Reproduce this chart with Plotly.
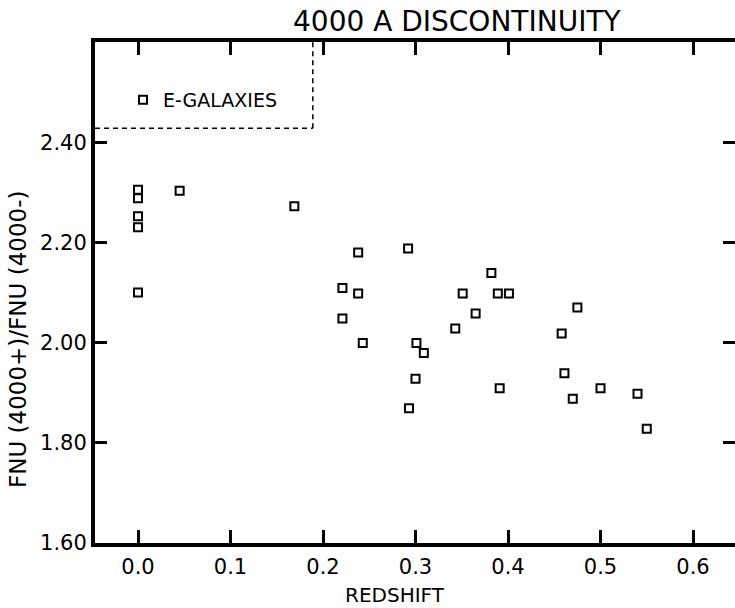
import plotly.graph_objects as go

# Data
redshift = [0.0, 0.0, 0.0, 0.0, 0.0, 0.045, 0.169, 0.238, 0.221, 0.238, 0.221,
            0.243, 0.292, 0.382, 0.351, 0.389, 0.401, 0.365, 0.343, 0.301, 0.309,
            0.300, 0.391, 0.293, 0.475, 0.458, 0.461, 0.470, 0.500, 0.540, 0.550]
ratio = [2.305, 2.288, 2.252, 2.230, 2.100, 2.303, 2.272, 2.180, 2.109, 2.098, 2.048,
         1.999, 2.188, 2.139, 2.098, 2.098, 2.098, 2.058, 2.028, 1.999, 1.979,
         1.928, 1.909, 1.869, 2.070, 2.018, 1.939, 1.888, 1.909, 1.898, 1.828]

x_ticks = [0.0, 0.1, 0.2, 0.3, 0.4, 0.5, 0.6]
x_tick_labels = ["0.0", "0.1", "0.2", "0.3", "0.4", "0.5", "0.6"]
y_ticks = [1.60, 1.80, 2.00, 2.20, 2.40]
y_tick_labels = ["1.60", "1.80", "2.00", "2.20", "2.40"]

title_text = "4000 A DISCONTINUITY"
x_title = "REDSHIFT"
y_title = "FNU (4000+)/FNU (4000-)"
series_name = "E-GALAXIES"

FONT = "DejaVu Sans"

fig = go.Figure()
fig.add_trace(go.Scatter(
    x=redshift, y=ratio, mode="markers", name=series_name,
    marker=dict(symbol="square-open", size=8, color="black",
                line=dict(width=2, color="black")),
    showlegend=True,
))
# invisible copy on the right-hand axis so its inward ticks are drawn
fig.add_trace(go.Scatter(
    x=redshift, y=ratio, mode="markers", yaxis="y2",
    marker=dict(opacity=0), showlegend=False, hoverinfo="skip",
))

x_range = [-0.0465, 0.6454]
y_range = [1.60, 2.60]

fig.update_layout(
    width=735, height=608,
    margin=dict(l=95, r=0, t=42, b=65),
    paper_bgcolor="white", plot_bgcolor="white",
    font=dict(family=FONT, color="black", size=21),
    xaxis=dict(range=x_range, tickvals=x_ticks, ticktext=x_tick_labels,
               showgrid=False, zeroline=False, showline=True, linewidth=4,
               linecolor="black", mirror="ticks", ticks="inside",
               ticklen=13, tickwidth=2.5, tickcolor="black",
               tickfont=dict(family=FONT, size=21), ticklabelstandoff=2),
    yaxis=dict(range=y_range, tickvals=y_ticks, ticktext=y_tick_labels,
               showgrid=False, zeroline=False, showline=True, linewidth=4,
               linecolor="black", mirror=False, ticks="inside",
               ticklen=12, tickwidth=2.5, tickcolor="black",
               tickfont=dict(family=FONT, size=21)),
    yaxis2=dict(range=y_range, tickvals=y_ticks, overlaying="y", side="right",
                showgrid=False, zeroline=False, showline=False,
                showticklabels=False, ticks="inside", ticklen=12,
                tickwidth=2.5, tickcolor="black"),
    legend=dict(x=(123 - 95) / 640, y=(543 - 100) / 501, xanchor="left",
                yanchor="middle", bgcolor="rgba(0,0,0,0)",
                font=dict(family=FONT, size=19), itemwidth=30),
    showlegend=True,
)

# dashed legend frame
box_x = 0.189
box_y = 2.428
fig.add_shape(type="line", xref="x", yref="y", x0=x_range[0], x1=box_x,
              y0=box_y, y1=box_y, line=dict(color="black", width=1.5, dash="5px,4px"))
fig.add_shape(type="line", xref="x", yref="y", x0=box_x, x1=box_x,
              y0=box_y, y1=y_range[1], line=dict(color="black", width=1.5, dash="5px,4px"))

fig.add_annotation(text=title_text, xref="paper", yref="paper",
                   x=(457 - 95) / 640, y=1 + (42 - 21) / 501,
                   xanchor="center", yanchor="middle", showarrow=False,
                   font=dict(family=FONT, size=28, color="black"))
fig.add_annotation(text=x_title, xref="paper", yref="paper",
                   x=(395 - 95) / 640, y=(543 - 595) / 501,
                   xanchor="center", yanchor="middle", showarrow=False,
                   font=dict(family=FONT, size=20, color="black"))
fig.add_annotation(text=y_title, xref="paper", yref="paper",
                   x=(18 - 95) / 640, y=(543 - 340) / 501, textangle=-90,
                   xanchor="center", yanchor="middle", showarrow=False,
                   font=dict(family=FONT, size=23, color="black"))

fig.write_html("out.html",
               config={"displayModeBar": False},
               post_script="document.body.style.margin='0';")
